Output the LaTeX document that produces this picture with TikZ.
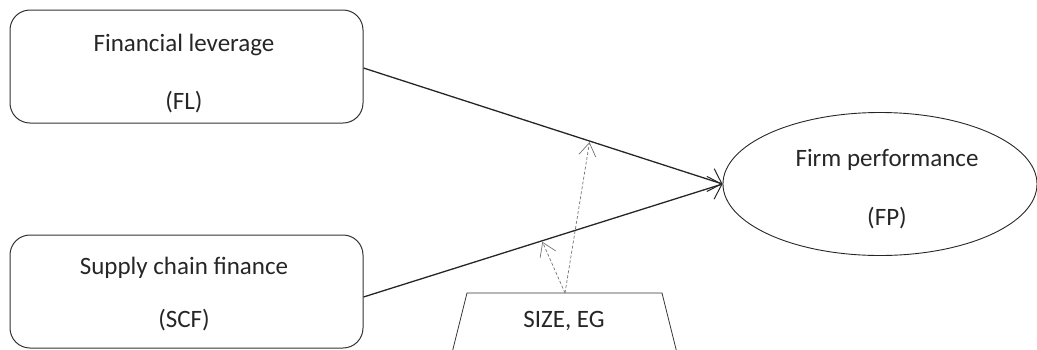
\documentclass[tikz,border=0pt]{standalone}
\usepackage{fontspec}
\setmainfont{Carlito}
\usetikzlibrary{arrows.meta,shapes.geometric}
\begin{document}
\begin{tikzpicture}[x=1pt,y=-1pt,
  txt/.style={font=\fontsize{25}{30}\selectfont, text=black!85, inner sep=0pt},
  varbox/.style={draw=black!80, line width=1pt, rounded corners=20pt, minimum width=353pt, minimum height=113pt, inner sep=0pt},
  mainarrow/.style={draw=black!85, line width=1.3pt, -{Straight Barb[length=12pt,width=24pt,line width=1pt]}},
  modarrow/.style={draw=black!55, line width=0.7pt, dash pattern=on 3pt off 2pt, -{Straight Barb[length=13pt,width=17pt,line width=0.7pt,sep]}}
]
\useasboundingbox (0,0) rectangle (1037,349);
\clip (0,0) rectangle (1037,349);
% boxes
\node[varbox] (fl) at (186.5,66.5) {};
\node[txt] (flt) at (184,45) {Financial leverage};
\node[txt] (flb) at (184,102) {(FL)};
\node[varbox] (scf) at (186.5,291.5) {};
\node[txt] (scft) at (184,268) {Supply chain finance};
\node[txt] (scfb) at (184,320) {(SCF)};
% ellipse
\node[draw=black!85, line width=0.9pt, ellipse, minimum width=314pt, minimum height=143pt, inner sep=0pt] (fp) at (880,184) {};
\node[txt] (fpt) at (887,160) {Firm performance};
\node[txt] (fpb) at (887,218) {(FP)};
% trapezoid
\draw[black!80, line width=0.8pt] (451,357) -- (467,293) -- (662,293) -- (678,357);
\node[txt] (sz) at (564,321) {SIZE, EG};
\coordinate (szt) at (565,293);
% main arrows
\coordinate (flo) at (fl.east |- 0,68);
\coordinate (scfo) at (scf.east |- 0,297);
\draw[mainarrow] (flo) -- (fp.west);
\draw[mainarrow] (scfo) -- (fp.west);
% moderating points
\path (flo) -- (fp.west) coordinate[pos=0.63] (m1);
\path (scfo) -- (fp.west) coordinate[pos=0.497] (m2);
\draw[modarrow] (szt) -- (m1);
\draw[modarrow] (szt) -- (m2);
\end{tikzpicture}
\end{document}
